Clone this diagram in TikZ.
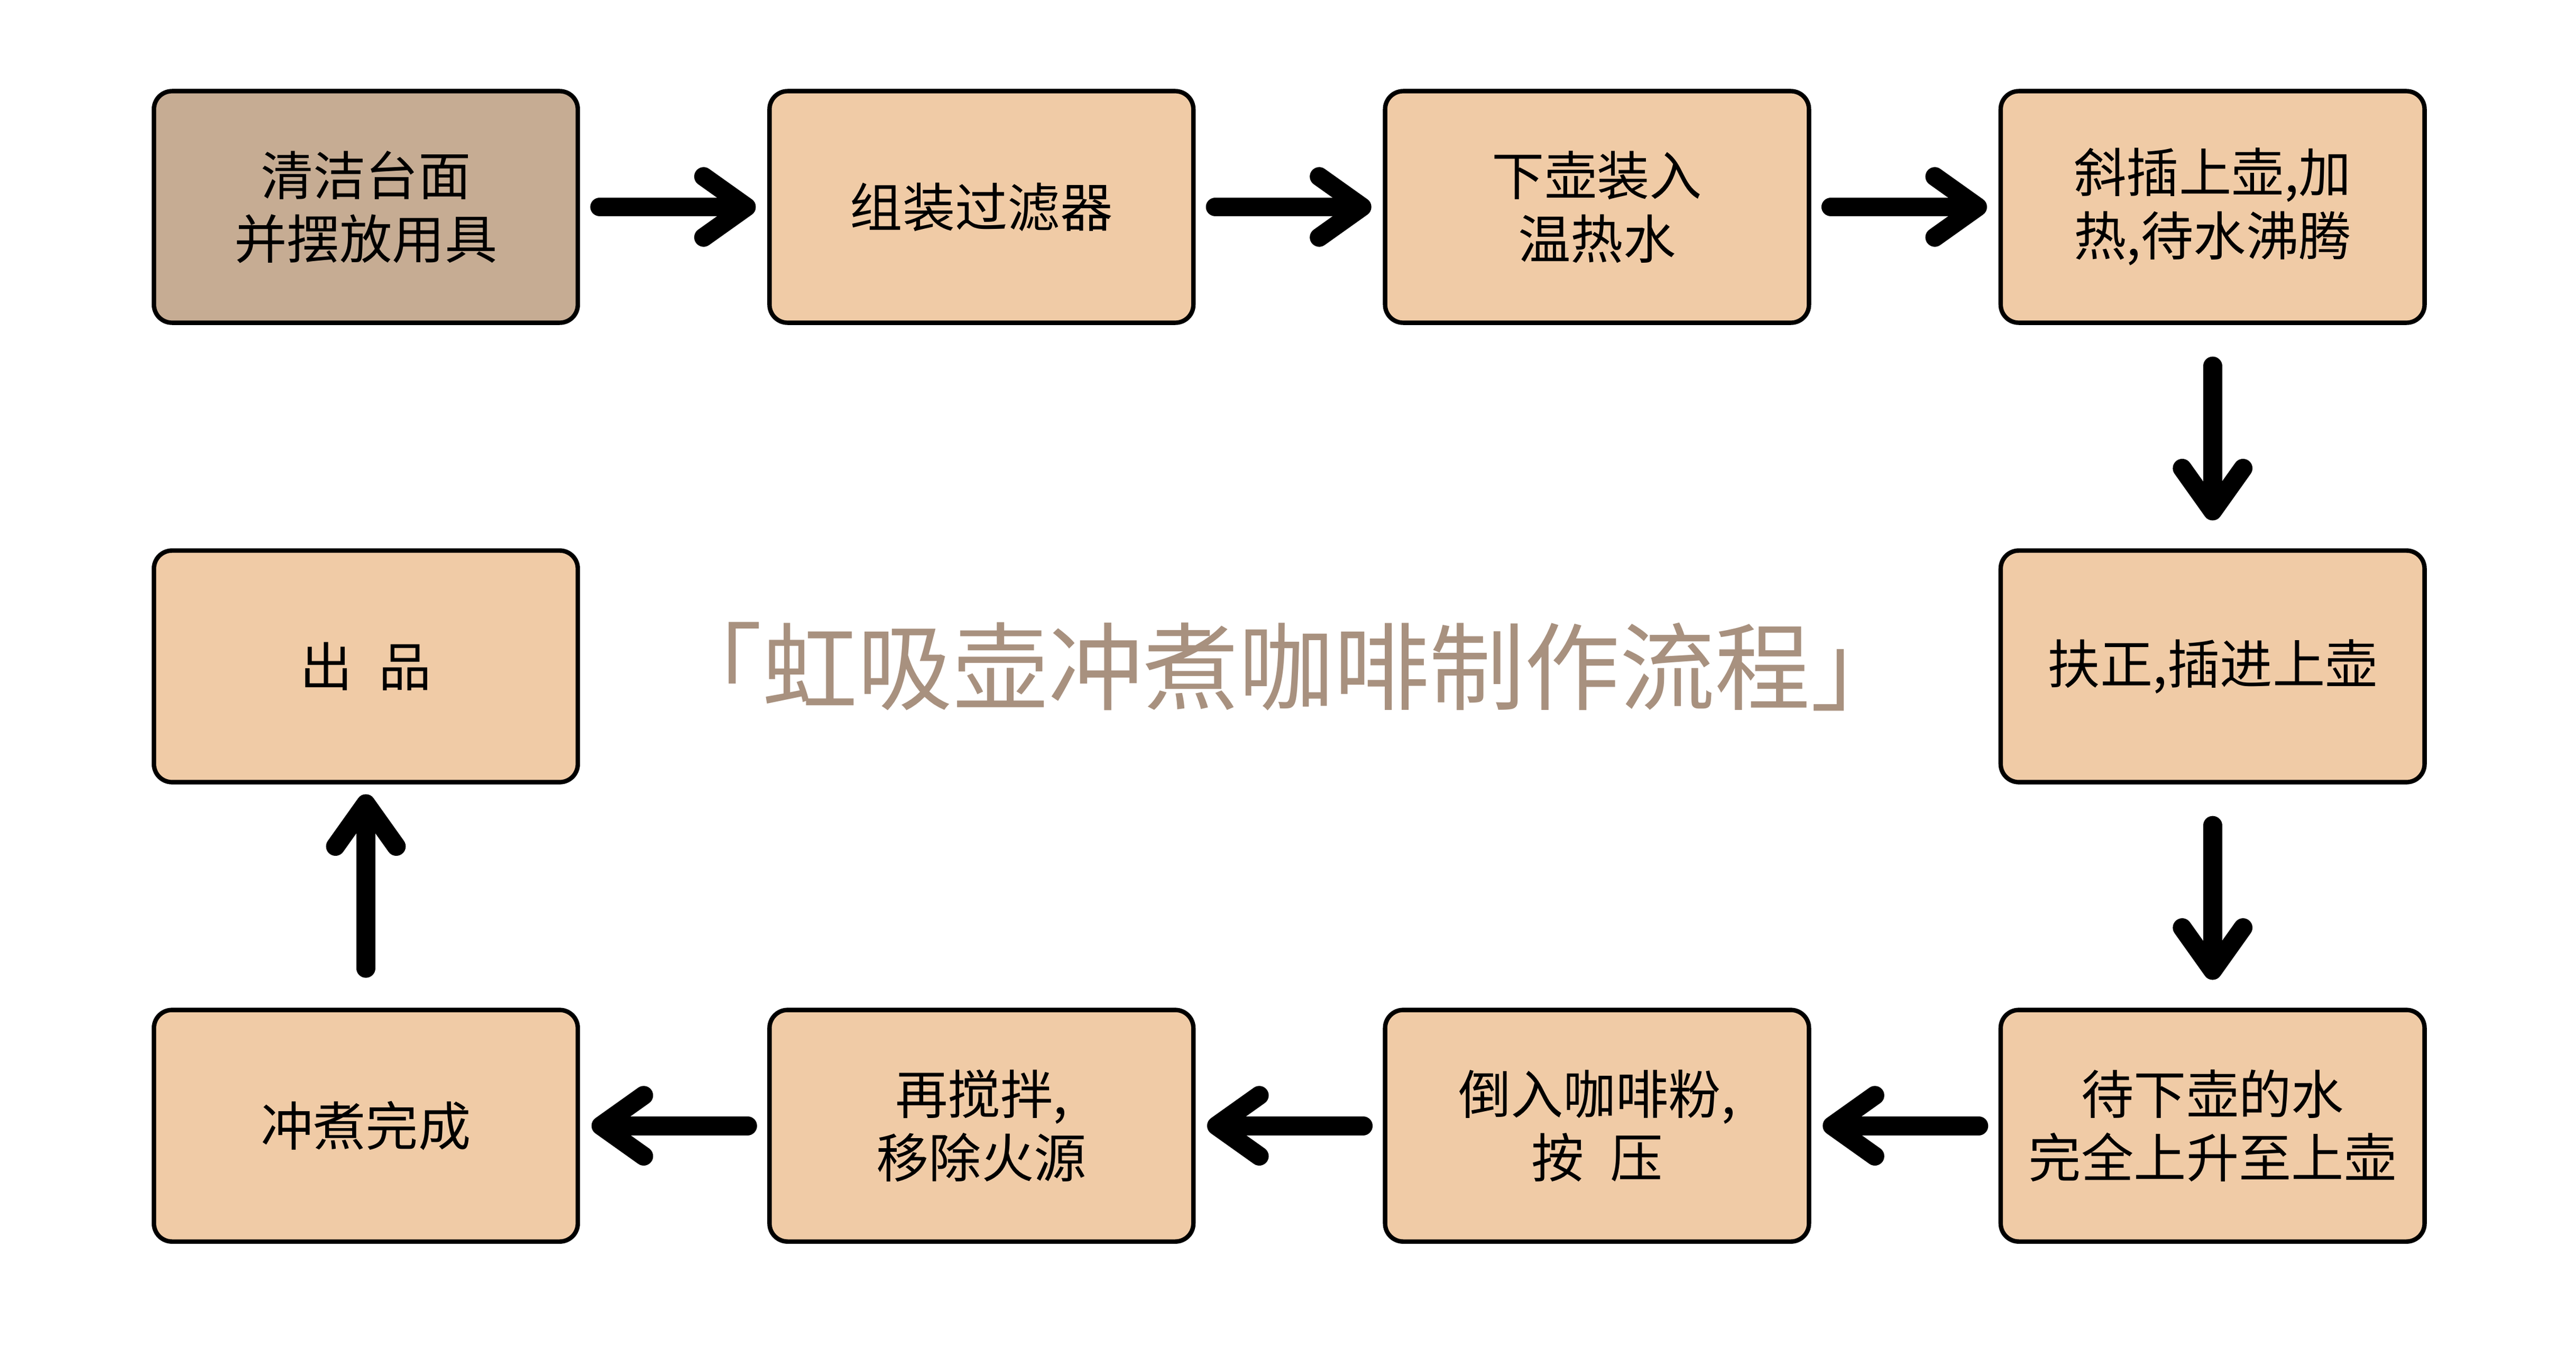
\documentclass[tikz,border=0pt]{standalone}
\usepackage{fontspec}
\setmainfont{Noto Sans CJK SC}
\usetikzlibrary{positioning,arrows.meta}
\definecolor{boxfill}{HTML}{F0CBA6}
\definecolor{startfill}{HTML}{C6AC93}
\definecolor{titlegray}{HTML}{A8917F}
\tikzset{%
  >={Straight Barb[length=26pt,width=37pt,round]},
  block/.style = {rectangle, draw=black, line width=2.7pt, fill=boxfill, rounded corners=11pt,
    minimum width=258pt, minimum height=141pt, align=center, inner sep=0pt,
    font=\fontsize{32}{38.6}\selectfont},
  block0/.style = {block, fill=startfill},
  line/.style = {draw, line width=11.5pt, line cap=round, ->}
}
\begin{document}
\begin{tikzpicture}[x=1pt,y=-1pt,node distance=136pt and 114pt]
	\useasboundingbox[fill=white] (0,0) rectangle (1568,832);
	
	\node[block0] (clean) at (222.7,126) {清洁台面\\并摆放用具};
	\node[block, right=of clean] (filter) {组装过滤器};
	\node[block, right=of filter] (water) {下壶装入\\温热水};
	\node[block, right=of water] (heat) {斜插上壶,加\\热,待水沸腾};
	\node[block, below=of heat] (insert) {扶正,插进上壶};
	\node[block, below=of insert] (rise) {待下壶的水\\完全上升至上壶};
	\node[block, left=of rise] (powder) {倒入咖啡粉,\\按\hspace{.5em}压};
	\node[block, left=of powder] (stir) {再搅拌,\\移除火源};
	\node[block, left=of stir] (done) {冲煮完成};
	\node[block, above=of done] (serve) {出\hspace{.5em}品};
	
	\node[text=titlegray, font=\fontsize{58}{64}\selectfont] (title) at (783,406) {「虹吸壶冲煮咖啡制作流程」};
	
	\begin{scope}[shorten <=12pt, shorten >=7pt]
	\draw[line] (clean) -- (filter);
	\draw[line] (filter) -- (water);
	\draw[line] (water) -- (heat);
	\draw[line] (rise) -- (powder);
	\draw[line] (powder) -- (stir);
	\draw[line] (stir) -- (done);
	\end{scope}
	
	\begin{scope}[shorten <=25pt, shorten >=17pt]
	\draw[line] (heat) -- (insert);
	\draw[line] (insert) -- (rise);
	\end{scope}
	\draw[line, shorten <=24pt, shorten >=6pt] (done) -- (serve);
\end{tikzpicture}
\end{document}
